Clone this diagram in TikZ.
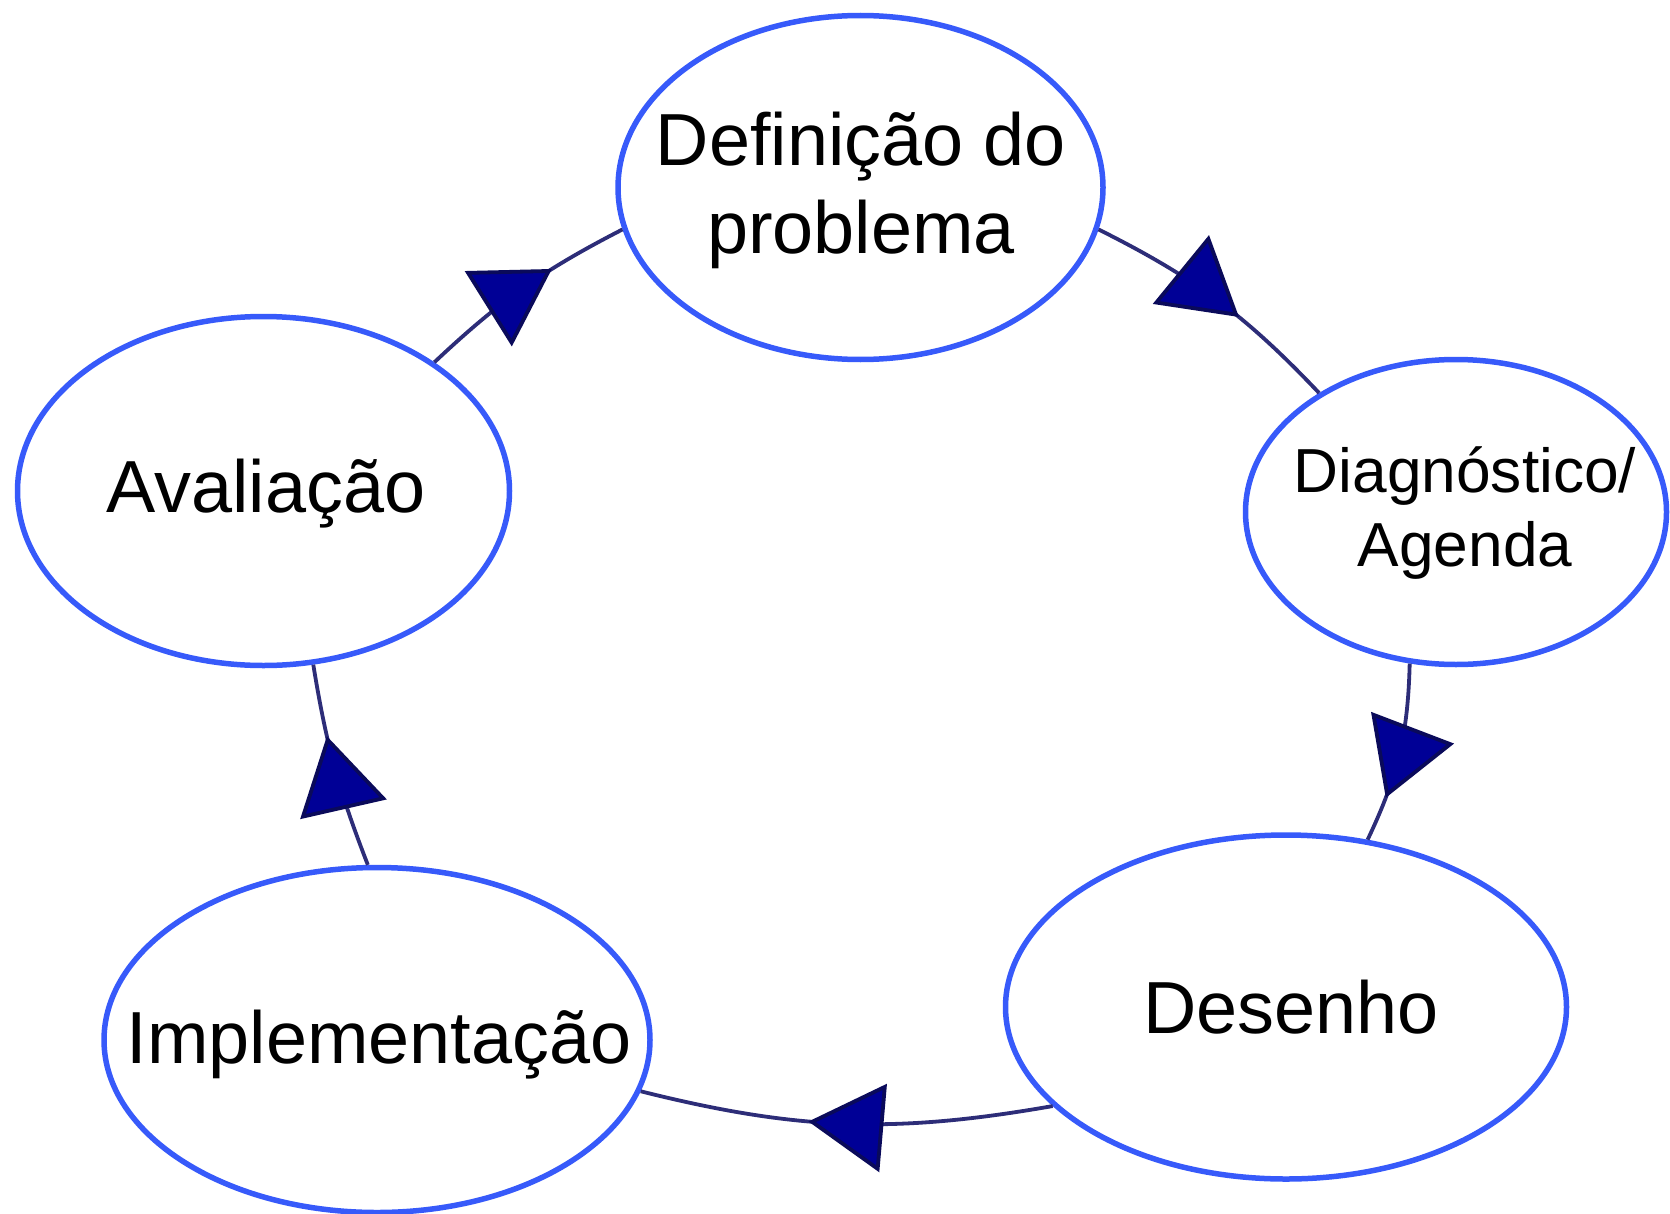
\documentclass[tikz,border=0pt]{standalone}
\usepackage{fontspec}
\setmainfont{Liberation Sans}
\usetikzlibrary{shapes.geometric, arrows.meta, decorations.markings}
\definecolor{ellblue}{RGB}{55,90,250}
\definecolor{linenavy}{RGB}{45,45,120}
\definecolor{arrfill}{RGB}{0,0,150}
\definecolor{arrline}{RGB}{10,10,90}
\begin{document}
\begin{tikzpicture}[x=0.1mm, y=0.1mm,
  ell/.style={ellipse, draw=ellblue, line width=0.55mm, inner sep=0pt},
  lbl/.style={font=\fontsize{21}{25}\selectfont, align=center, inner sep=0pt},
  lblsmall/.style={font=\fontsize{17.7}{21}\selectfont, align=center, inner sep=0pt},
  conn/.style={draw=linenavy, line width=0.38mm, postaction={decorate},
    decoration={markings, mark=at position #1 with {\arrow{Triangle[length=7.5mm,width=8.8mm,fill=arrfill,color=arrline]}}}}]
\useasboundingbox (0,0) rectangle (1670,1213);
\node[ell, minimum width=48.5mm, minimum height=34.4mm] (def) at (860.5,1025.5) {};
\node[ell, minimum width=42.1mm, minimum height=30.5mm] (diag) at (1456,701) {};
\node[ell, minimum width=56.1mm, minimum height=34.4mm] (des) at (1286,206) {};
\node[ell, minimum width=54.6mm, minimum height=34.5mm] (impl) at (377,173) {};
\node[ell, minimum width=49.2mm, minimum height=34.9mm] (aval) at (263.5,722) {};
\node[lbl] (tdef) at (861,1023) {Definição do\\problema};
\node[lblsmall] (tdiag) at (1465,700) {Diagnóstico/\\Agenda};
\node[lbl, anchor=base] (tdes) at (1291,180) {Desenho};
\node[lbl, anchor=base] (timpl) at (379,150) {Implementação};
\node[lbl, anchor=base] (taval) at (266,701) {Avaliação};
\draw[conn=0.6] (def.-10) to[bend left=10] (diag.139);
\draw[conn=0.75] (diag.-107) to[bend left=12] (des.64);
\draw[conn=0.59] (des.203.5) to[bend left=12] (impl.-11.6);
\draw[conn=0.65] (impl.93) to[bend left=6] (aval.-74);
\draw[conn=0.65] (aval.37.6) to[bend left=8] (def.-170.7);
\end{tikzpicture}
\end{document}
